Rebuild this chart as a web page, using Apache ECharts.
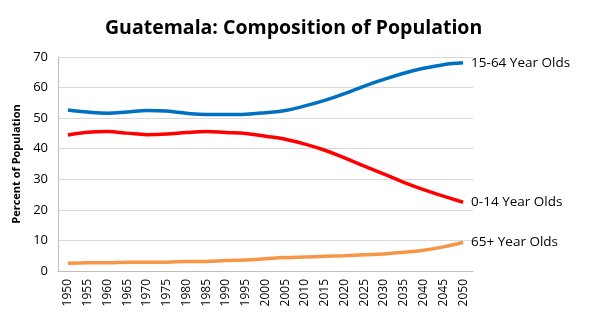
<!DOCTYPE html>
<html><head><meta charset="utf-8">
<script src="https://cdn.jsdelivr.net/npm/echarts@6/dist/echarts.min.js"></script>
<style>html,body{margin:0;padding:0;background:#fff}#c{width:595px;height:325px}</style>
</head><body><div id="c"></div>
<script>
const years = ['1950','1955','1960','1965','1970','1975','1980','1985','1990','1995','2000','2005','2010','2015','2020','2025','2030','2035','2040','2045','2050'];
const age15to64 = [52.7,52.0,51.6,52.0,52.5,52.3,51.6,51.2,51.2,51.3,51.8,52.5,54.0,55.8,58.0,60.5,62.7,64.7,66.3,67.5,68.1];
const age0to14 = [44.5,45.4,45.6,45.1,44.6,44.8,45.3,45.6,45.3,45.0,44.1,43.1,41.5,39.5,37.0,34.3,31.7,29.0,26.6,24.5,22.5];
const age65plus = [2.5,2.7,2.7,2.9,2.9,2.9,3.1,3.1,3.4,3.6,4.0,4.4,4.6,4.8,5.0,5.3,5.6,6.1,6.8,7.9,9.3];
const seriesNames = ['15-64 Year Olds','0-14 Year Olds','65+ Year Olds'];
const yTicks = {min:0, max:70, interval:10};
const font = 'Open Sans, Liberation Sans, sans-serif';
const chart = echarts.init(document.getElementById('c'));
function mk(name, data, color){
  return {name, type:'line', data, smooth:0.4, symbol:'none',
    lineStyle:{color, width:3.5}, itemStyle:{color},
    endLabel:{show:true, formatter:name, color:'#000', fontSize:13.5, fontFamily:font, distance:8}};
}
chart.setOption({
  animation:false,
  title:{text:'Guatemala: Composition of Population', left:100, top:13,
    textStyle:{fontSize:19.5, fontWeight:'bold', fontFamily:font, color:'#000'}},
  grid:{left:58, right:122, top:57, bottom:54},
  xAxis:{type:'category', data:years, boundaryGap:true,
    axisLine:{lineStyle:{color:'#bfbfbf'}}, axisTick:{show:false},
    axisLabel:{rotate:90, color:'#000', fontSize:12, fontFamily:font, interval:0, margin:8}},
  yAxis:{type:'value', min:yTicks.min, max:yTicks.max, interval:yTicks.interval,
    name:'Percent of Population', nameLocation:'middle', nameGap:36,
    nameTextStyle:{fontSize:11, fontWeight:'bold', fontFamily:font, color:'#000'},
    axisLine:{show:true, lineStyle:{color:'#bfbfbf'}}, axisTick:{show:false},
    axisLabel:{color:'#000', fontSize:13, fontFamily:font, margin:10},
    splitLine:{lineStyle:{color:'#d9d9d9'}}},
  series:[mk(seriesNames[0], age15to64, '#0070C0'), mk(seriesNames[1], age0to14, '#FF0000'), mk(seriesNames[2], age65plus, '#F79646')]
});
</script></body></html>
